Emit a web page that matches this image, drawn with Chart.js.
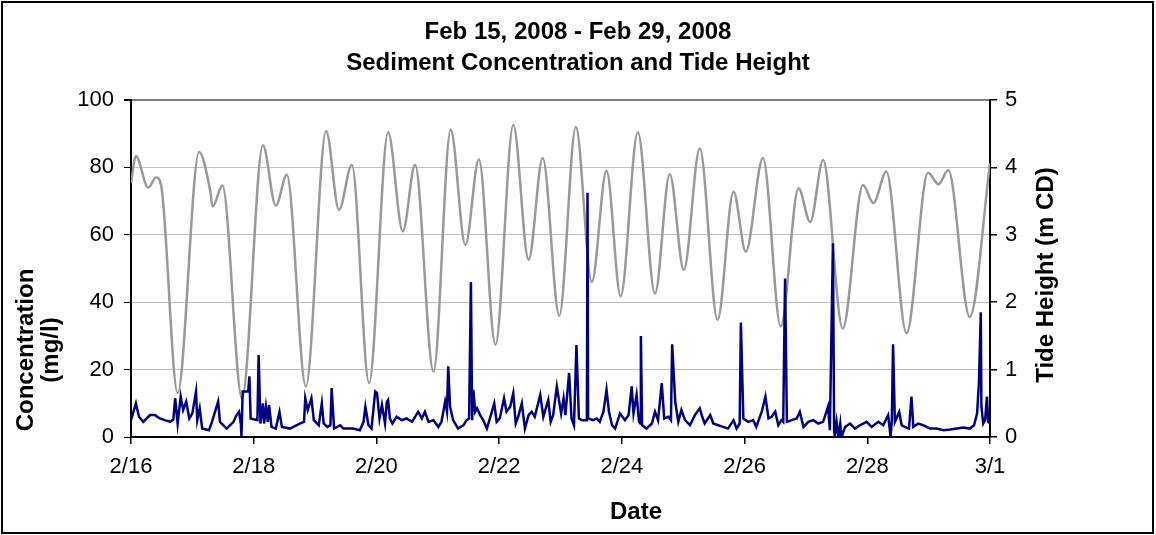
<!DOCTYPE html>
<html>
<head>
<meta charset="utf-8">
<script src="https://cdn.jsdelivr.net/npm/chart.js@4.4.1/dist/chart.umd.min.js"></script>
<style>
  html, body { margin: 0; padding: 0; background: #fff; }
  #wrap { width: 1156px; height: 535px; }
</style>
</head>
<body>
<div id="wrap"><canvas id="chart" width="1156" height="535"></canvas></div>
<script>
// days after 2/16/2008 00:00
const sedDays = [
  0.00, 0.08, 0.13, 0.20, 0.31, 0.39, 0.47, 0.55, 0.64, 0.69, 0.72, 0.76, 0.81, 0.85, 0.90, 0.95,
  1.00, 1.06, 1.08, 1.12, 1.16, 1.27, 1.32, 1.42, 1.45, 1.56, 1.67, 1.72, 1.76, 1.79, 1.80, 1.82,
  1.91, 1.93, 1.95, 2.06, 2.08, 2.11, 2.15, 2.17, 2.20, 2.23, 2.25, 2.29, 2.36, 2.42, 2.46, 2.59,
  2.75, 2.82, 2.84, 2.88, 2.94, 2.98, 3.06, 3.11, 3.14, 3.20, 3.25, 3.27, 3.31, 3.41, 3.46, 3.62,
  3.73, 3.79, 3.82, 3.87, 3.92, 3.98, 4.01, 4.05, 4.09, 4.14, 4.17, 4.19, 4.22, 4.26, 4.33, 4.41,
  4.49, 4.58, 4.68, 4.74, 4.79, 4.85, 4.93, 5.01, 5.06, 5.12, 5.15, 5.17, 5.20, 5.25, 5.33, 5.42,
  5.47, 5.51, 5.54, 5.56, 5.58, 5.61, 5.64, 5.69, 5.74, 5.80, 5.85, 5.92, 5.96, 6.01, 6.08, 6.12,
  6.18, 6.23, 6.27, 6.31, 6.37, 6.42, 6.48, 6.53, 6.58, 6.67, 6.72, 6.80, 6.84, 6.88, 6.94, 7.01,
  7.05, 7.08, 7.14, 7.18, 7.22, 7.26, 7.30, 7.35, 7.43, 7.44, 7.45, 7.53, 7.59, 7.64, 7.70, 7.75,
  7.79, 7.84, 7.89, 7.97, 8.05, 8.11, 8.16, 8.19, 8.24, 8.28, 8.30, 8.31, 8.33, 8.40, 8.49, 8.54,
  8.59, 8.65, 8.69, 8.76, 8.80, 8.82, 8.87, 8.92, 8.97, 9.03, 9.11, 9.19, 9.27, 9.31, 9.35, 9.44,
  9.49, 9.57, 9.65, 9.73, 9.82, 9.87, 9.92, 9.94, 9.98, 10.06, 10.14, 10.19, 10.28, 10.34, 10.39, 10.44,
  10.50, 10.55, 10.60, 10.63, 10.66, 10.69, 10.77, 10.85, 10.90, 10.96, 11.04, 11.12, 11.20, 11.28, 11.36, 11.39,
  11.44, 11.46, 11.47, 11.50, 11.53, 11.56, 11.58, 11.64, 11.72, 11.80, 11.88, 11.99, 12.07, 12.18, 12.26, 12.34,
  12.38, 12.40, 12.42, 12.45, 12.52, 12.56, 12.61, 12.68, 12.72, 12.75, 12.83, 12.91, 13.02, 13.13, 13.24, 13.35,
  13.46, 13.56, 13.67, 13.74, 13.79, 13.82, 13.85, 13.86, 13.89, 13.92, 13.95, 13.97, 14.00
];
const sedConc = [
  5, 10, 6, 4.5, 6.5, 6.5, 5.5, 5, 4.5, 5.2, 11.5, 4, 12, 8, 10.5, 5.5,
  7, 13.5, 5, 8.5, 2.5, 2, 4.5, 10.5, 4.5, 2.5, 4.5, 6.5, 7.5, 4, 0, 13.5,
  13.5, 18, 5.5, 5, 24.3, 4, 10, 4, 9, 4.5, 9.5, 3, 2.5, 7.4, 3, 2.5,
  4, 4.5, 11.5, 8, 11.5, 5, 3.5, 10, 4, 3, 3.5, 14.5, 2.5, 3.5, 2.5, 2.5,
  2, 4.5, 9, 3.5, 2.5, 13.5, 13, 5.5, 9.5, 4, 10.5, 11, 5.5, 4, 6, 5,
  5.5, 4.5, 7.5, 5.5, 7.5, 4.5, 5, 3, 4.5, 10.5, 7.5, 21, 9, 5, 2.5, 3.5,
  5, 5.5, 46, 5, 14, 7.5, 8.5, 6.5, 5, 2.5, 5.5, 10, 4.5, 5.5, 11.5, 7.5,
  9, 13, 4, 6, 10, 2.5, 6.5, 7.5, 6, 12.5, 6, 11, 4.5, 6.5, 15, 7,
  11.5, 6.5, 19, 5.5, 3.5, 27.3, 5.5, 5, 5, 72.5, 5.5, 5, 5.5, 4.5, 7.5, 14,
  7.5, 3.5, 2.5, 7, 5, 6.5, 15, 7, 12.5, 4.5, 4, 30, 3.5, 2.5, 4, 7.5,
  5, 16, 5.5, 6, 5, 27.5, 10.5, 4.5, 8, 5, 3.5, 6.5, 8.5, 6, 4, 6.5,
  4, 3.5, 3, 2.5, 5, 2.5, 4, 34, 5.5, 4.5, 5, 3, 7.5, 12, 5.5, 6,
  7.5, 3.5, 5, 4.5, 47, 4.5, 5, 5.5, 7.5, 3, 4.5, 5, 4, 4.5, 9, 2,
  57.5, 2, 0, 4.5, 0, 4, 0, 3, 4, 2.5, 3.5, 4.5, 3, 4.5, 3.5, 6.5,
  0, 5, 27.5, 4.5, 7.5, 3.5, 3, 2.5, 12, 3, 4, 3.5, 2.5, 2.5, 2, 2.2,
  2.5, 2.8, 2.5, 3.5, 7, 16.4, 37, 9, 4, 5, 12, 4.5, 4
];

// tide highs and lows (m CD)
const tideDays = [
  0.00, 0.08, 0.28, 0.41, 0.49, 0.76, 1.11, 1.29, 1.33, 1.49, 1.81, 2.15, 2.36, 2.54, 2.85, 3.18,
  3.39, 3.60, 3.88, 4.19, 4.43, 4.63, 4.93, 5.21, 5.45, 5.67, 5.94, 6.23, 6.48, 6.71, 6.98, 7.25,
  7.51, 7.75, 7.98, 8.26, 8.54, 8.78, 9.01, 9.27, 9.56, 9.82, 10.02, 10.30, 10.59, 10.88, 11.07, 11.28,
  11.60, 11.93, 12.10, 12.31, 12.64, 12.99, 13.16, 13.32, 13.67, 14.00
];
const tideHeight = [
  3.77, 4.17, 3.70, 3.85, 3.74, 0.65, 4.23, 3.66, 3.42, 3.73, 0.57, 4.33, 3.43, 3.89, 0.75, 4.54,
  3.37, 4.04, 0.80, 4.52, 3.05, 4.04, 0.97, 4.56, 2.85, 4.12, 1.37, 4.63, 2.63, 4.14, 1.80, 4.60,
  2.30, 3.95, 2.09, 4.52, 2.13, 3.90, 2.48, 4.28, 1.74, 3.64, 2.75, 4.14, 1.64, 3.69, 3.19, 4.11,
  1.61, 3.74, 3.47, 3.94, 1.54, 3.92, 3.75, 3.96, 1.78, 4.06
];

const concTicks = [0, 20, 40, 60, 80, 100];
const tideTicks = [0, 1, 2, 3, 4, 5];
const dateTicks = [0, 2, 4, 6, 8, 10, 12, 14];

const FONT = "'Liberation Sans', Arial, sans-serif";

function dayLabel(v) {
  const d = new Date(2008, 1, 16 + v);
  return (d.getMonth() + 1) + '/' + d.getDate();
}

// titles, rotated axis titles and the outer frame
const framePlugin = {
  id: 'frame',
  afterDraw(chart) {
    const { ctx, chartArea } = chart;
    ctx.save();
    ctx.fillStyle = '#000';
    ctx.textAlign = 'center';
    ctx.textBaseline = 'middle';

    ctx.font = 'bold 24px ' + FONT;
    ctx.fillText('Feb 15, 2008 - Feb 29, 2008', 578, 32);
    ctx.fillText('Sediment Concentration and Tide Height', 578, 63);

    ctx.fillText('Date', 636, 512);

    ctx.save();
    ctx.translate(26, 350);
    ctx.rotate(-Math.PI / 2);
    ctx.fillText('Concentration', 0, 0);
    ctx.restore();
    ctx.save();
    ctx.translate(51, 350);
    ctx.rotate(-Math.PI / 2);
    ctx.fillText('(mg/l)', 0, 0);
    ctx.restore();

    ctx.save();
    ctx.translate(1046, 275);
    ctx.rotate(-Math.PI / 2);
    ctx.fillText('Tide Height (m CD)', 0, 0);
    ctx.restore();

    ctx.strokeStyle = '#000';
    ctx.lineWidth = 2;
    ctx.strokeRect(2, 2, 1151, 531);
    ctx.restore();
  }
};

new Chart(document.getElementById('chart').getContext('2d'), {
  type: 'line',
  data: {
    datasets: [
      {
        label: 'Concentration',
        data: sedDays.map((d, i) => ({ x: d, y: sedConc[i] })),
        borderColor: '#000080',
        borderWidth: 2.5,
        pointRadius: 0,
        tension: 0,
        yAxisID: 'y'
      },
      {
        label: 'Tide Height',
        data: tideDays.map((d, i) => ({ x: d, y: tideHeight[i] })),
        borderColor: '#999999',
        borderWidth: 2.5,
        pointRadius: 0,
        cubicInterpolationMode: 'monotone',
        yAxisID: 'y1'
      }
    ]
  },
  options: {
    responsive: false,
    animation: false,
    layout: { padding: { top: 100, right: 0, bottom: 0, left: 0 } },
    plugins: {
      legend: { display: false },
      tooltip: { enabled: false }
    },
    scales: {
      x: {
        type: 'linear',
        min: 0,
        max: 14,
        afterBuildTicks: s => { s.ticks = dateTicks.map(v => ({ value: v })); },
        afterFit: s => { s.height = 98; },
        ticks: {
          callback: v => dayLabel(v),
          color: '#000',
          font: { family: FONT, size: 22 },
          padding: 10,
          maxRotation: 0,
          autoSkip: false
        },
        grid: { drawOnChartArea: false, tickLength: 7, tickColor: '#000', lineWidth: 1.5 },
        border: { color: '#000', width: 2 }
      },
      y: {
        position: 'left',
        min: 0,
        max: 100,
        afterBuildTicks: s => { s.ticks = concTicks.map(v => ({ value: v })); },
        afterFit: s => { s.width = 131; },
        ticks: {
          color: '#000',
          font: { family: FONT, size: 22 },
          padding: 10
        },
        grid: {
          color: c => c.tick.value === 100 ? '#808080' : '#c0c0c0',
          lineWidth: c => c.tick.value === 100 ? 2 : 1,
          tickLength: 7,
          tickColor: '#000'
        },
        border: { color: '#000', width: 2 }
      },
      y1: {
        position: 'right',
        min: 0,
        max: 5,
        afterBuildTicks: s => { s.ticks = tideTicks.map(v => ({ value: v })); },
        afterFit: s => { s.width = 166; },
        ticks: {
          color: '#000',
          font: { family: FONT, size: 22 },
          padding: 8
        },
        grid: { drawOnChartArea: false, tickLength: 7, tickColor: '#000', lineWidth: 1.5 },
        border: { color: '#000', width: 2 }
      }
    }
  },
  plugins: [framePlugin]
});
</script>
</body>
</html>
